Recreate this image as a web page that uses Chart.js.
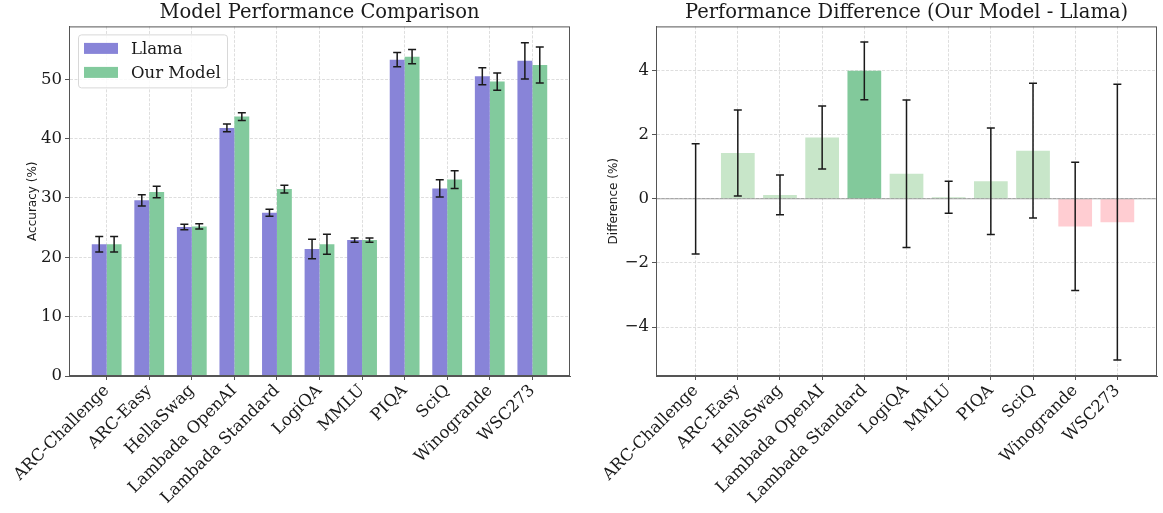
<!DOCTYPE html>
<html>
<head>
<meta charset="utf-8">
<script src="https://cdn.jsdelivr.net/npm/chart.js@4/dist/chart.umd.min.js"></script>
<style>
  html, body { margin: 0; padding: 0; background: #fff; }
  #wrap { position: relative; width: 1163px; height: 513px; }
  .panel { position: absolute; top: 0; height: 513px; }
  #leftPanel { left: 0; width: 580px; }
  #rightPanel { left: 580px; width: 583px; }
</style>
</head>
<body>
<div id="wrap">
  <div class="panel" id="leftPanel"><canvas id="accChart"></canvas></div>
  <div class="panel" id="rightPanel"><canvas id="diffChart"></canvas></div>
</div>
<script>
// benchmark data
const categories = ["ARC-Challenge", "ARC-Easy", "HellaSwag", "Lambada OpenAI", "Lambada Standard",
  "LogiQA", "MMLU", "PIQA", "SciQ", "Winogrande", "WSC273"];
const llamaAcc = [22.2, 29.6, 25.1, 41.8, 27.5, 21.4, 22.9, 53.3, 31.6, 50.5, 53.1];
const llamaErr = [1.3, 0.95, 0.45, 0.65, 0.6, 1.65, 0.35, 1.2, 1.45, 1.45, 3.05];
const ourAcc = [22.2, 31.0, 25.2, 43.7, 31.5, 22.2, 22.9, 53.8, 33.1, 49.6, 52.4];
const ourErr = [1.3, 0.95, 0.45, 0.65, 0.65, 1.7, 0.35, 1.2, 1.5, 1.45, 3.05];
const diffVals = [0, 1.43, 0.12, 1.91, 3.99, 0.78, 0.05, 0.55, 1.5, -0.86, -0.73];
const diffErr = [1.72, 1.34, 0.62, 0.98, 0.9, 2.3, 0.5, 1.66, 2.1, 2.0, 4.3];
const accTicks = [0, 10, 20, 30, 40, 50];
const diffTicks = [-4, -2, 0, 2, 4];

const SERIF = "'DejaVu Serif', serif";
const SANS = "'DejaVu Sans', sans-serif";
const GRID = "#dedede";
const AXIS = "#555";
const TXT = "#1a1a1a";

function pts(vals) {
  return vals.map((v, i) => ({ x: i, y: v }));
}

function minus(v) {
  return v < 0 ? "\u2212" + Math.abs(v) : String(v);
}

// error bars + frame + zero line
const extras = {
  id: "extras",
  afterDatasetsDraw(chart, args, opts) {
    const ctx = chart.ctx;
    const y = chart.scales.y;
    const a = chart.chartArea;
    if (opts.zeroLine) {
      ctx.save();
      ctx.strokeStyle = "rgba(0,0,0,0.35)";
      ctx.lineWidth = 1;
      ctx.beginPath();
      ctx.moveTo(a.left, y.getPixelForValue(0));
      ctx.lineTo(a.right, y.getPixelForValue(0));
      ctx.stroke();
      ctx.restore();
    }
    chart.data.datasets.forEach((ds, di) => {
      if (!ds.errors) return;
      const meta = chart.getDatasetMeta(di);
      meta.data.forEach((bar, i) => {
        const v = ds.data[i].y, e = ds.errors[i];
        const t = y.getPixelForValue(v + e), b = y.getPixelForValue(v - e);
        const cap = 4;
        ctx.save();
        ctx.strokeStyle = TXT;
        ctx.lineWidth = 1.5;
        ctx.beginPath();
        ctx.moveTo(bar.x, t); ctx.lineTo(bar.x, b);
        ctx.moveTo(bar.x - cap, t); ctx.lineTo(bar.x + cap, t);
        ctx.moveTo(bar.x - cap, b); ctx.lineTo(bar.x + cap, b);
        ctx.stroke();
        ctx.restore();
      });
    });
    ctx.save();
    ctx.strokeStyle = AXIS;
    ctx.lineWidth = 1;
    ctx.strokeRect(a.left + 0.5, a.top + 0.5, a.right - a.left - 1, a.bottom - a.top - 1);
    ctx.restore();
  },
  afterDraw(chart, args, opts) {
    if (!opts.legend) return;
    const ctx = chart.ctx;
    const a = chart.chartArea;
    const x0 = a.left + 9, y0 = a.top + 8, w = 149, h = 53;
    ctx.save();
    ctx.fillStyle = "rgba(255,255,255,0.85)";
    ctx.strokeStyle = "#d8d8d8";
    ctx.lineWidth = 1;
    ctx.beginPath();
    ctx.roundRect(x0 + 0.5, y0 + 0.5, w, h, 3);
    ctx.fill();
    ctx.stroke();
    ctx.font = "16.5px " + SERIF;
    ctx.textBaseline = "middle";
    chart.data.datasets.forEach((ds, i) => {
      const cy = y0 + 14 + i * 24;
      ctx.fillStyle = ds.backgroundColor;
      ctx.fillRect(x0 + 6, cy - 5.5, 34, 11);
      ctx.fillStyle = TXT;
      ctx.fillText(ds.label, x0 + 53, cy + 1);
    });
    ctx.restore();
  }
};

function xAxis(minX, maxX) {
  return {
    type: "linear",
    min: minX,
    max: maxX,
    offset: false,
    afterFit: (s) => { s.height = 137; s.paddingLeft = 0; s.paddingRight = 0; },
    grid: { offset: false, color: GRID, lineWidth: 1, drawTicks: true, tickLength: 4, tickColor: AXIS, tickWidth: 1 },
    border: { display: true, color: AXIS, dash: [3, 1.5] },
    ticks: {
      stepSize: 1,
      includeBounds: false,
      autoSkip: false,
      minRotation: 45,
      maxRotation: 45,
      padding: 1,
      color: TXT,
      font: { family: SERIF, size: 16.5 },
      callback: (v) => categories[v] ?? ""
    }
  };
}

function yAxis(minY, maxY, tickVals, width, label, titlePad) {
  return {
    min: minY,
    max: maxY,
    afterFit: (s) => { s.width = width; },
    afterBuildTicks: (s) => { s.ticks = tickVals.map((v) => ({ value: v })); },
    grid: { color: GRID, lineWidth: 1, tickLength: 4, tickColor: AXIS, tickWidth: 1 },
    border: { display: true, color: AXIS, dash: [3, 1.5] },
    ticks: {
      includeBounds: false,
      padding: 3,
      color: TXT,
      font: { family: SERIF, size: 16.5 },
      callback: (v) => minus(v)
    },
    title: {
      display: true,
      text: label,
      color: TXT,
      font: { family: SANS, size: 12 },
      padding: { top: titlePad, bottom: 0 }
    }
  };
}

function titleOpts(text) {
  return {
    display: true,
    text: text,
    fullSize: false,
    color: TXT,
    font: { family: SERIF, size: 19.5, weight: "normal", lineHeight: 1.2 },
    padding: { top: 1, bottom: 2 }
  };
}

Chart.defaults.animation = false;
Chart.defaults.devicePixelRatio = 1;

new Chart(document.getElementById("accChart").getContext("2d"), {
  type: "bar",
  data: {
    datasets: [
      { label: "Llama", data: pts(llamaAcc), errors: llamaErr, backgroundColor: "#8884d8",
        categoryPercentage: 0.7, barPercentage: 1.0 },
      { label: "Our Model", data: pts(ourAcc), errors: ourErr, backgroundColor: "#82ca9d",
        categoryPercentage: 0.7, barPercentage: 1.0 }
    ]
  },
  options: {
    responsive: true,
    maintainAspectRatio: false,
    layout: { padding: { left: 0, right: 10, top: 0, bottom: 0 } },
    scales: {
      x: xAxis(-0.885, 10.885),
      y: yAxis(0, 58.9, accTicks, 69, "Accuracy (%)", 26)
    },
    plugins: {
      legend: { display: false },
      tooltip: { enabled: false },
      title: titleOpts("Model Performance Comparison"),
      extras: { legend: true, zeroLine: false }
    }
  },
  plugins: [extras]
});

const diffColors = diffVals.map((v, i) =>
  v < 0 ? "#ffcdd2" : (v / diffErr[i] > 2 ? "#82c99b" : "#c8e6c9"));

new Chart(document.getElementById("diffChart").getContext("2d"), {
  type: "bar",
  data: {
    datasets: [
      { label: "Difference", data: pts(diffVals), errors: diffErr, backgroundColor: diffColors,
        categoryPercentage: 0.8, barPercentage: 1.0 }
    ]
  },
  options: {
    responsive: true,
    maintainAspectRatio: false,
    layout: { padding: { left: 0, right: 6, top: 0, bottom: 0 } },
    scales: {
      x: xAxis(-0.94, 10.94),
      y: yAxis(-5.525, 5.375, diffTicks, 76, "Difference (%)", 27)
    },
    plugins: {
      legend: { display: false },
      tooltip: { enabled: false },
      title: titleOpts("Performance Difference (Our Model - Llama)"),
      extras: { legend: false, zeroLine: true }
    }
  },
  plugins: [extras]
});
</script>
</body>
</html>
